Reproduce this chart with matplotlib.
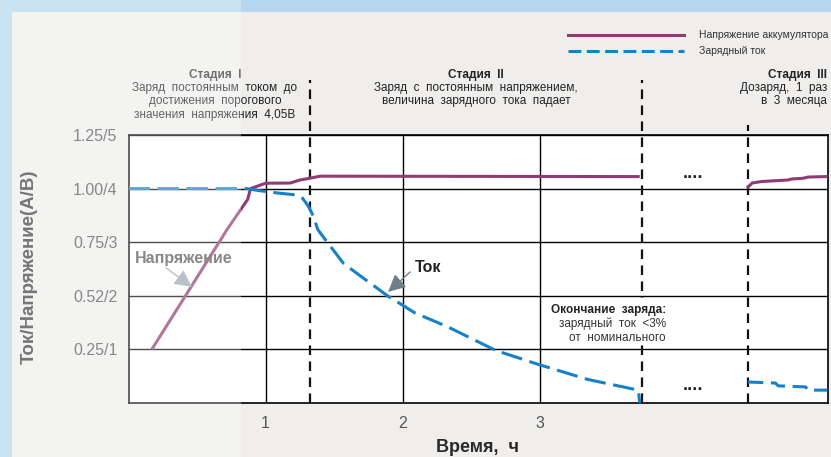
import matplotlib
matplotlib.use("Agg")
import matplotlib.pyplot as plt
from matplotlib.patches import Rectangle
from matplotlib.lines import Line2D

plt.rcParams['font.family'] = ['Liberation Sans', 'DejaVu Sans']

W, H = 831, 457

# --- data (hours / relative units) ---
volt_x = [0.17, 0.72, 0.87, 0.89, 1.00, 1.18, 1.25, 1.32, 1.40, 3.73]
volt_y = [0.25, 0.81, 0.95, 1.00, 1.025, 1.026, 1.04, 1.048, 1.058, 1.056]

volt3_x = [4.52, 4.55, 4.62, 4.81, 4.84, 4.92, 4.96, 5.09]
volt3_y = [1.007, 1.026, 1.033, 1.04, 1.045, 1.048, 1.054, 1.056]

cur_x = [0.00, 0.86, 0.96, 1.08, 1.23, 1.27, 1.31, 1.35, 1.38, 1.45, 1.57,
         1.74, 1.89, 2.09, 2.33, 2.68, 2.99, 3.35, 3.72, 3.73]
cur_y = [1.00, 1.00, 0.99, 0.98, 0.97, 0.955, 0.92, 0.87, 0.81, 0.75, 0.65,
         0.57, 0.50, 0.42, 0.355, 0.245, 0.18, 0.11, 0.06, 0.0]

cur3_x = [4.52, 4.72, 4.74, 4.94, 4.96, 5.10]
cur3_y = [0.098, 0.093, 0.08, 0.075, 0.06, 0.06]

stage_bounds = [1.325, 3.746, 4.517]
stage_tops = [1.507, 1.507, 1.297]

yticks = [0.25, 0.5, 0.75, 1.0, 1.25]
ytick_labels = ["0.25/1", "0.52/2", "0.75/3", "1.00/4", "1.25/5"]
xticks = [1, 2, 3]

PURPLE = "#8f3c74"
BLUE = "#1581c9"


def fx(px):
    return px / W


def fy(py):
    return 1 - py / H


fig = plt.figure(figsize=(W / 100, H / 100), dpi=100, facecolor="#b3d8f0")
fig.patches.append(Rectangle((fx(12), 0), 1 - fx(12), fy(12), transform=fig.transFigure,
                             facecolor="#efeeed", edgecolor="none", zorder=-10))

ax = fig.add_axes([fx(128.5), fy(403), fx(827.5) - fx(128.5), fy(135) - fy(403)])
ax.set_facecolor("white")
ax.set_xlim(0, 5.1)
ax.set_ylim(0, 1.25)

for y in yticks:
    ax.axhline(y, color="black", lw=1.0, zorder=1)
for x in xticks:
    ax.axvline(x, color="black", lw=1.0, zorder=1)
for s in ax.spines.values():
    s.set_color("black")
    s.set_linewidth(1.2)

ax.set_yticks(yticks)
ax.set_yticklabels(ytick_labels)
ax.set_xticks(xticks)
ax.set_xticklabels([str(x) for x in xticks])
ax.tick_params(length=0, labelsize=11.5, labelcolor="#555555")
ax.tick_params(axis="y", pad=8)
ax.tick_params(axis="x", pad=9)

# stage boundaries
for xb, top in zip(stage_bounds, stage_tops):
    ax.plot([xb, xb], [0, top], color="#111111", lw=1.6, dashes=(4.3, 2.9),
            clip_on=False, zorder=2)

# curves
ax.plot(volt_x, volt_y, color=PURPLE, lw=2.2, zorder=4, solid_capstyle="butt")
ax.plot(volt3_x, volt3_y, color=PURPLE, lw=2.2, zorder=4)
ax.plot(cur_x, cur_y, color=BLUE, lw=2.2, dashes=(7, 2.5), zorder=4)
ax.plot(cur3_x, cur3_y, color=BLUE, lw=2.2, dashes=(5, 2.5), zorder=4)

ax.text(4.12, 1.07, "....", fontsize=13, fontweight="bold", ha="center", va="center", color="#222222")
ax.text(4.12, 0.08, "....", fontsize=13, fontweight="bold", ha="center", va="center", color="#222222")

# annotations
arrow_style = "-|>,head_length=0.42,head_width=0.21"
ax.text(0.047, 0.676, "Напряжение", fontsize=11.5, fontweight="bold", color="#555555",
        ha="left", va="center", zorder=6)
ax.annotate("", xy=(0.463, 0.541), xytext=(0.274, 0.63),
            arrowprops=dict(arrowstyle=arrow_style, mutation_scale=25, color="#9aa9b1", lw=1.0,
                            shrinkA=0, shrinkB=0),
            zorder=6)
ax.text(2.091, 0.63, "Ток", fontsize=11.5, fontweight="bold", color="#222222",
        ha="left", va="center", zorder=6)
ax.annotate("", xy=(1.894, 0.518), xytext=(2.055, 0.611),
            arrowprops=dict(arrowstyle=arrow_style, mutation_scale=25, color="#6e7f89", lw=1.0,
                            shrinkA=0, shrinkB=0),
            zorder=6)

ax.add_patch(Rectangle((3.03, 0.27), 0.93, 0.222, facecolor="white", edgecolor="none", zorder=3))
ax.text(3.92, 0.434, "Окончание  заряда:", fontsize=8.5, fontweight="bold", color="#222222",
        ha="right", va="center", zorder=5)
ax.text(3.92, 0.368, "зарядный  ток  <3%", fontsize=8.5, color="#333333", ha="right", va="center", zorder=5)
ax.text(3.92, 0.303, "от  номинального", fontsize=8.5, color="#333333", ha="right", va="center", zorder=5)

# stage headings
fs = 8.5
fig.text(fx(215), fy(75), "Стадия  I", fontsize=fs, fontweight="bold", ha="center", va="center", color="#333333")
fig.text(fx(215), fy(88), "Заряд  постоянным  током  до", fontsize=fs, ha="center", va="center", color="#222222")
fig.text(fx(215), fy(101), "достижения  порогового", fontsize=fs, ha="center", va="center", color="#222222")
fig.text(fx(215), fy(115), "значения  напряжения  4,05В", fontsize=fs, ha="center", va="center", color="#222222")

fig.text(fx(476), fy(75), "Стадия  II", fontsize=fs, fontweight="bold", ha="center", va="center", color="#222222")
fig.text(fx(476), fy(88), "Заряд  с  постоянным  напряжением,", fontsize=fs, ha="center", va="center", color="#222222")
fig.text(fx(476), fy(101), "величина  зарядного  тока  падает", fontsize=fs, ha="center", va="center", color="#222222")

fig.text(fx(827), fy(75), "Стадия  III", fontsize=fs, fontweight="bold", ha="right", va="center", color="#222222")
fig.text(fx(827), fy(88), "Дозаряд,  1  раз", fontsize=fs, ha="right", va="center", color="#222222")
fig.text(fx(827), fy(101), "в  3  месяца", fontsize=fs, ha="right", va="center", color="#222222")

# legend
fig.add_artist(Line2D([fx(568), fx(684)], [fy(35), fy(35)], color=PURPLE, lw=2.2))
fig.add_artist(Line2D([fx(568), fx(684)], [fy(51), fy(51)], color=BLUE, lw=2.2, dashes=(4.2, 1.8)))
fig.text(fx(699), fy(35), "Напряжение аккумулятора", fontsize=7.5, ha="left", va="center", color="#333333")
fig.text(fx(699), fy(51), "Зарядный ток", fontsize=7.5, ha="left", va="center", color="#333333")

# axis titles
fig.text(fx(29), fy(267), "Ток/Напряжение(А/В)", rotation=90, fontsize=13.5, fontweight="bold",
         ha="center", va="center", color="#3a3a3a")
fig.text(fx(478), fy(447), "Время,  ч", fontsize=13, fontweight="bold", ha="center", va="center",
         color="#2a2a2a")

# lighter overlay on the left part of the picture
fig.patches.append(Rectangle((0, 0), fx(241), 1, transform=fig.transFigure,
                             facecolor="white", alpha=0.3, edgecolor="none", zorder=20))

fig.savefig("out.png", dpi=100, facecolor=fig.get_facecolor())
